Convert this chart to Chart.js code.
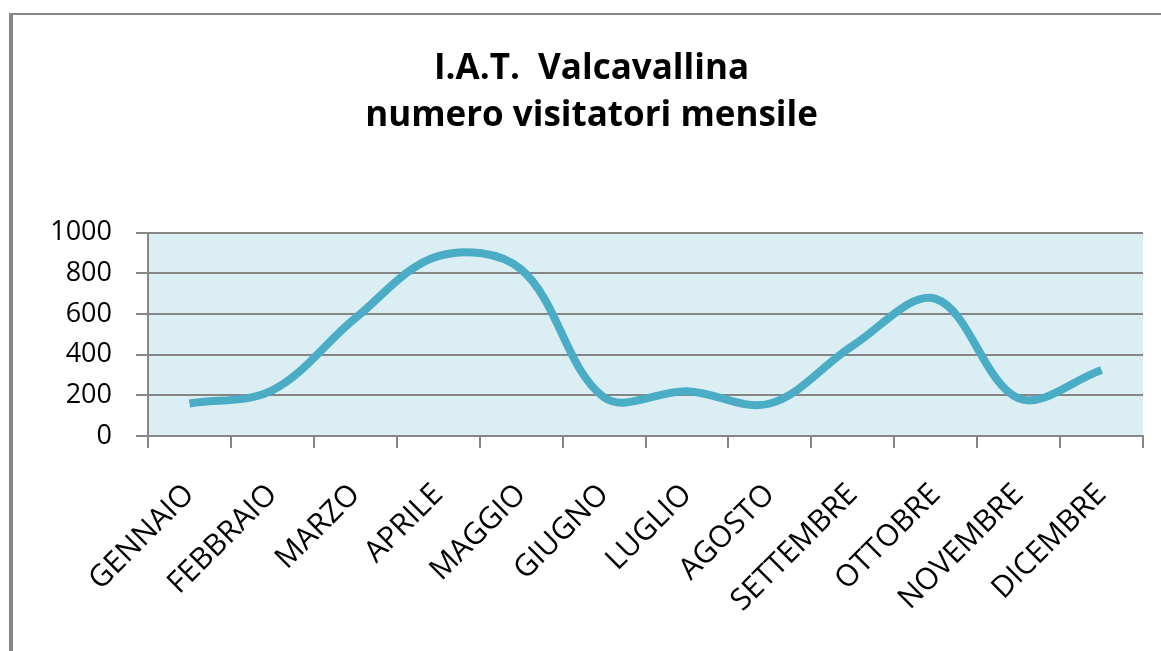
<!DOCTYPE html>
<html>
<head>
<meta charset="utf-8">
<title>I.A.T. Valcavallina</title>
<script src="https://cdn.jsdelivr.net/npm/chart.js@4.4.1/dist/chart.umd.min.js"></script>
<style>
  html, body { margin: 0; padding: 0; background: #fff; }
  #wrap { width: 1161px; height: 651px; }
</style>
</head>
<body>
<div id="wrap"><canvas id="grafico" width="1161" height="651"></canvas></div>
<script>
const mesi = ['GENNAIO', 'FEBBRAIO', 'MARZO', 'APRILE', 'MAGGIO', 'GIUGNO',
  'LUGLIO', 'AGOSTO', 'SETTEMBRE', 'OTTOBRE', 'NOVEMBRE', 'DICEMBRE'];
const visitatori = [160, 225, 580, 885, 820, 190, 220, 160, 445, 675, 185, 325];
const titolo = ['I.A.T.  Valcavallina', 'numero visitatori mensile'];
const yMin = 0;
const yMax = 1000;
const yPasso = 200;

const grigio = '#868686';

// sfondo azzurro dell'area del grafico + cornice grigia
const sfondo = {
  id: 'sfondo',
  beforeDraw(chart) {
    const { ctx, chartArea: a } = chart;
    ctx.save();
    ctx.fillStyle = '#ffffff';
    ctx.fillRect(0, 0, chart.width, chart.height);
    ctx.fillStyle = '#dbeef4';
    ctx.fillRect(a.left, a.top, a.right - a.left, a.bottom - a.top);
    ctx.fillStyle = grigio;
    ctx.fillRect(9, 13, 4, chart.height - 13);
    ctx.fillRect(9, 13, chart.width - 9, 2);
    ctx.restore();
  }
};

const ctx = document.getElementById('grafico').getContext('2d');
new Chart(ctx, {
  type: 'line',
  data: {
    labels: mesi,
    datasets: [{
      label: 'visitatori',
      data: visitatori,
      borderColor: '#4bacc6',
      borderWidth: 8,
      borderCapStyle: 'butt',
      fill: false,
      tension: 0.35,
      pointRadius: 0,
    }],
  },
  options: {
    responsive: false,
    animation: false,
    devicePixelRatio: 1,
    layout: { padding: { left: 40, right: 18, top: 0, bottom: 0 } },
    plugins: {
      legend: { display: false },
      tooltip: { enabled: false },
      title: {
        display: true,
        text: titolo,
        color: '#000',
        font: { family: 'Open Sans', size: 35, weight: 'bold', lineHeight: 1.34 },
        padding: { top: 46, bottom: 93 },
      },
    },
    scales: {
      x: {
        offset: true,
        grid: {
          offset: true,
          drawOnChartArea: false,
          drawTicks: true,
          tickLength: 12,
          color: grigio,
          lineWidth: 2,
        },
        border: { color: grigio, width: 2 },
        ticks: {
          autoSkip: false,
          minRotation: 45,
          maxRotation: 45,
          padding: 29,
          color: '#000',
          font: { family: 'Open Sans', size: 30 },
        },
        afterFit(scale) { scale.height = 215; },
      },
      y: {
        min: yMin,
        max: yMax,
        grid: { color: grigio, lineWidth: 2, tickLength: 12 },
        border: { color: grigio, width: 2 },
        ticks: {
          stepSize: yPasso,
          padding: 24,
          color: '#000',
          font: { family: 'Open Sans', size: 27 },
          callback: (v) => String(v),
        },
        afterFit(scale) { scale.width = 108; },
      },
    },
  },
  plugins: [sfondo],
});
</script>
</body>
</html>
